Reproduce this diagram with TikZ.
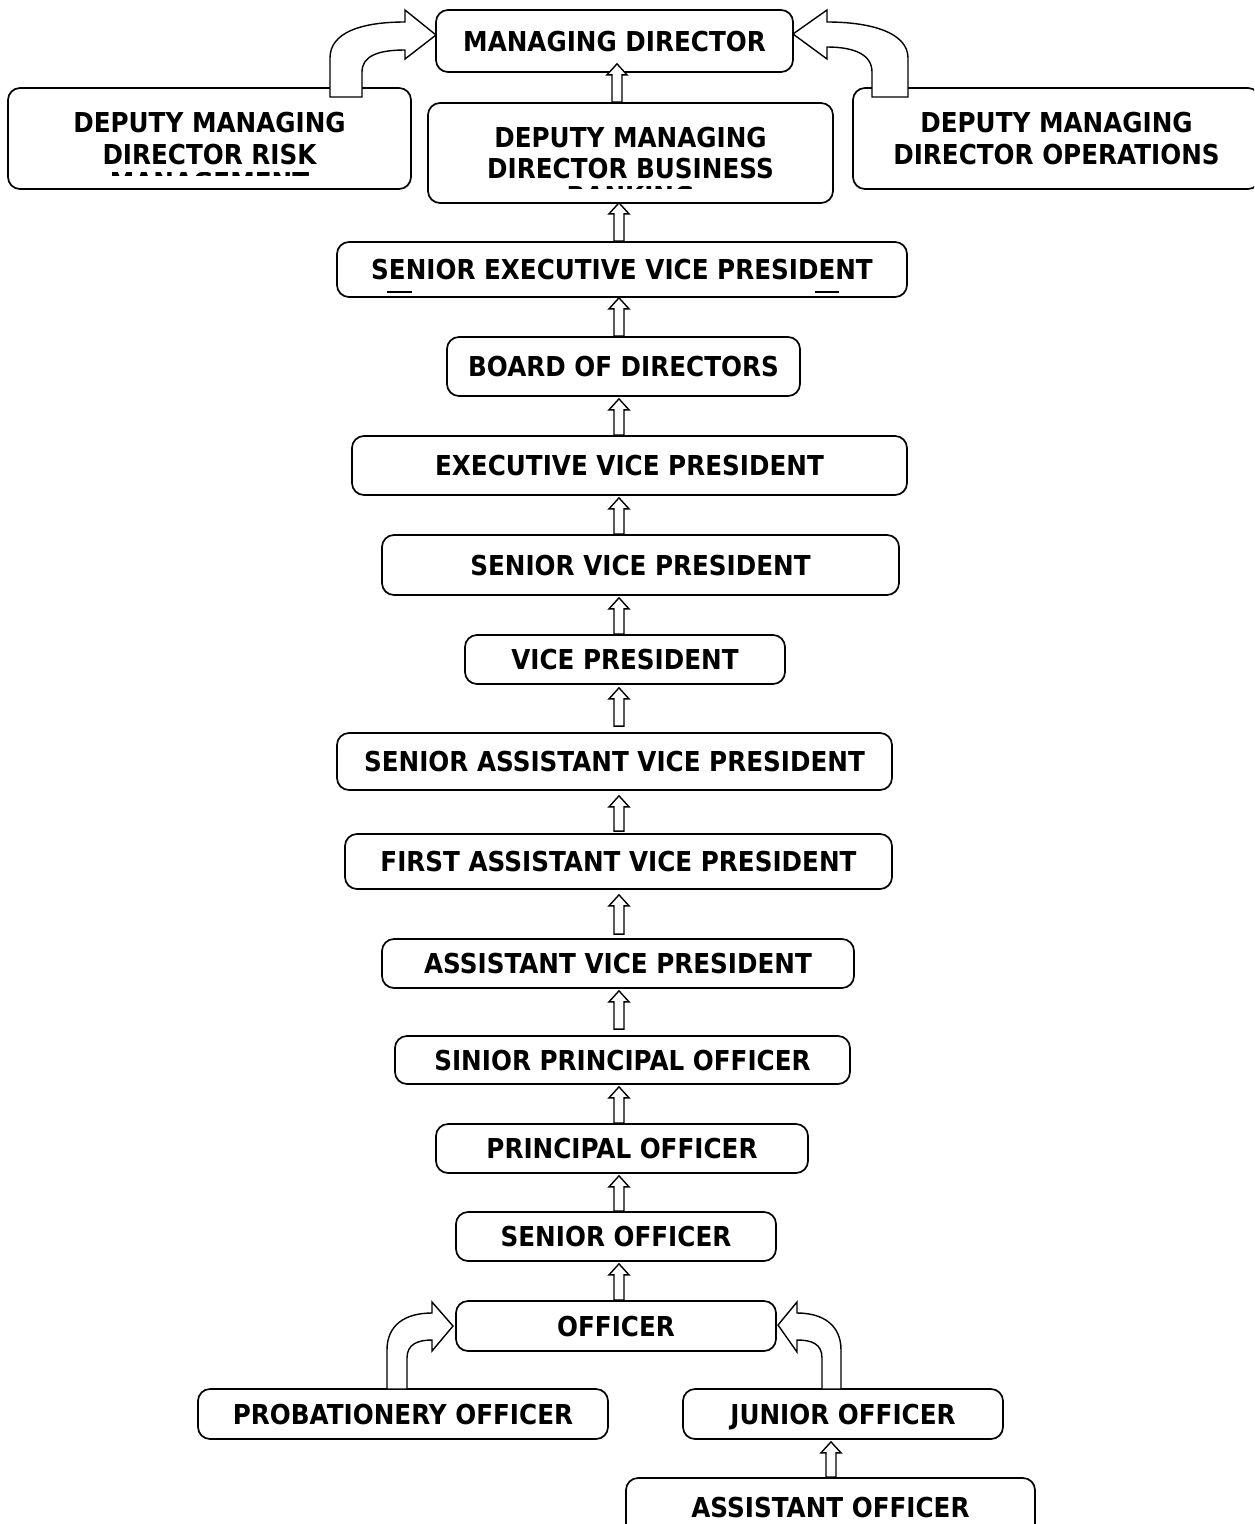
\documentclass[tikz,border=0pt]{standalone}
\usepackage{fontspec}
\newfontfamily\boxfont{DejaVu Sans}[FakeStretch=0.9]
\usetikzlibrary{calc}
\tikzset{
  box/.style={draw, line width=1.7pt, rounded corners=12pt, fill=white, inner sep=0pt,
    align=center, font=\boxfont\bfseries\fontsize{27.4}{31.5}\selectfont},
  one/.style={text height=20pt, text depth=0pt},
  lbl/.style={inner sep=0pt, font=\boxfont\bfseries\fontsize{27.4}{31.5}\selectfont},
  blockup/.style={draw, fill=white, line width=1.4pt, line join=miter,
    to path={let \p1=(\tikztostart), \p2=(\tikztotarget) in
      (\x1-5pt,\y1) -- (\x1-5pt,\y2-11pt) -- (\x1-10pt,\y2-11pt) -- (\x1,\y2)
      -- (\x1+10pt,\y2-11pt) -- (\x1+5pt,\y2-11pt) -- (\x1+5pt,\y1) -- cycle}},
  bendarrow/.style={draw, fill=white, line width=1.4pt, line join=miter},
  tick/.style={line width=1.5pt}
}
\begin{document}
\begin{tikzpicture}[x=1pt, y=-1pt]
\useasboundingbox (0,0) rectangle (1254,1524);
\fill[white] (0,0) rectangle (1254,1524);
\clip (0,0) rectangle (1254,1524);

% boxes
\node[box, one, minimum width=357pt, minimum height=62pt] (md)   at (614.5,41)   {MANAGING DIRECTOR};
\node[box, minimum width=403pt, minimum height=101pt]     (dmdr) at (209.5,138.5) {DEPUTY MANAGING\\DIRECTOR RISK};
\node[box, minimum width=405pt, minimum height=100pt]     (dmdb) at (630.5,153)  {DEPUTY MANAGING\\DIRECTOR BUSINESS};
\node[box, minimum width=407pt, minimum height=101pt]     (dmdo) at (1056.5,138.5) {DEPUTY MANAGING\\DIRECTOR OPERATIONS};
\node[box, one, minimum width=570pt, minimum height=55pt] (sevp) at (622,269.5)  {SENIOR EXECUTIVE VICE PRESIDENT};
\node[box, one, minimum width=353pt, minimum height=59pt] (bod)  at (623.5,366.5) {BOARD OF DIRECTORS};
\node[box, one, minimum width=555pt, minimum height=59pt] (evp)  at (629.5,465.5) {EXECUTIVE VICE PRESIDENT};
\node[box, one, minimum width=517pt, minimum height=60pt] (svp)  at (640.5,565)  {SENIOR VICE PRESIDENT};
\node[box, one, minimum width=320pt, minimum height=49pt] (vp)   at (625,659.5)  {VICE PRESIDENT};
\node[box, one, minimum width=555pt, minimum height=57pt] (savp) at (614.5,761.5) {SENIOR ASSISTANT VICE PRESIDENT};
\node[box, one, minimum width=547pt, minimum height=55pt] (favp) at (618.5,861.5) {FIRST ASSISTANT VICE PRESIDENT};
\node[box, one, minimum width=472pt, minimum height=49pt] (avp)  at (618,963.5)  {ASSISTANT VICE PRESIDENT};
\node[box, one, minimum width=455pt, minimum height=48pt] (spo)  at (622.5,1060) {SINIOR PRINCIPAL OFFICER};
\node[box, one, minimum width=372pt, minimum height=49pt] (po)   at (622,1148.5) {PRINCIPAL OFFICER};
\node[box, one, minimum width=320pt, minimum height=49pt] (so)   at (616,1236.5) {SENIOR OFFICER};
\node[box, one, minimum width=320pt, minimum height=50pt] (off)  at (616,1326)   {OFFICER};
\node[box, one, minimum width=410pt, minimum height=50pt] (prob) at (403,1414)   {PROBATIONERY OFFICER};
\node[box, one, minimum width=320pt, minimum height=50pt] (jo)   at (843,1414)   {JUNIOR OFFICER};
\node[box, one, minimum width=409pt, minimum height=59pt] (ao)   at (830.5,1507.5) {ASSISTANT OFFICER};

% cut-off third lines
\begin{scope}
  \clip (20,172.5) rectangle (400,175);
  \node[lbl, anchor=base] (dmdrcut) at (209.5,192.5) {MANAGEMENT};
\end{scope}
\begin{scope}
  \clip (440,186) rectangle (820,188.5);
  \node[lbl, anchor=base] (dmdbcut) at (630.5,206) {BANKING};
\end{scope}

% small marks in senior executive vice president box
\draw[tick] (387,292) -- (412,292);
\draw[tick] (815,292) -- (839,292);

% straight block arrows
\coordinate (ax0) at (617,0);
\coordinate (ax) at (619,0);
\coordinate (axj) at (831,0);
\draw[blockup] (dmdb.north -| ax0) to ([yshift=9pt]md.south -| ax0);
\draw[blockup] (sevp.north -| ax) to ([yshift=1pt]dmdb.south -| ax);
\draw[blockup] (bod.north -| ax) to (sevp.south -| ax);
\draw[blockup] (evp.north -| ax) to ([yshift=-2pt]bod.south -| ax);
\draw[blockup] (svp.north -| ax) to ([yshift=-2pt]evp.south -| ax);
\draw[blockup] (vp.north -| ax) to ([yshift=-2pt]svp.south -| ax);
\draw[blockup] ([yshift=6pt]savp.north -| ax) to ([yshift=-3pt]vp.south -| ax);
\draw[blockup] ([yshift=2pt]favp.north -| ax) to ([yshift=-5pt]savp.south -| ax);
\draw[blockup] ([yshift=4pt]avp.north -| ax) to ([yshift=-5pt]favp.south -| ax);
\draw[blockup] ([yshift=6pt]spo.north -| ax) to ([yshift=-2pt]avp.south -| ax);
\draw[blockup] (po.north -| ax) to ([yshift=-2pt]spo.south -| ax);
\draw[blockup] (so.north -| ax) to ([yshift=-2pt]po.south -| ax);
\draw[blockup] (off.north -| ax) to ([yshift=-2pt]so.south -| ax);
\draw[blockup] (ao.north -| axj) to ([yshift=-2pt]jo.south -| axj);

% bent block arrows
\path[bendarrow] (330,97) -- (330,58) .. controls (330,33) and (360,22) .. (405,22)
  -- (405,10) -- (436,35) -- (405,59) -- (405,50)
  .. controls (378,50) and (362,56) .. (362,72) -- (362,97) -- cycle;
\path[bendarrow] (908,97) -- (908,58) .. controls (908,33) and (872,22) .. (827,22)
  -- (827,10) -- (793,34) -- (827,59) -- (827,47)
  .. controls (855,47) and (872,55) .. (872,72) -- (872,97) -- cycle;
\path[bendarrow] (387,1389) -- (387,1350) .. controls (387,1325) and (405,1313) .. (432,1313)
  -- (432,1302) -- (453,1326) -- (432,1351) -- (432,1340)
  .. controls (418,1340) and (407,1344) .. (407,1358) -- (407,1389) -- cycle;
\path[bendarrow] (841,1389) -- (841,1350) .. controls (841,1325) and (823,1313) .. (797,1313)
  -- (797,1302) -- (778,1325) -- (797,1352) -- (797,1340)
  .. controls (812,1340) and (822,1344) .. (822,1358) -- (822,1389) -- cycle;
\end{tikzpicture}
\end{document}
